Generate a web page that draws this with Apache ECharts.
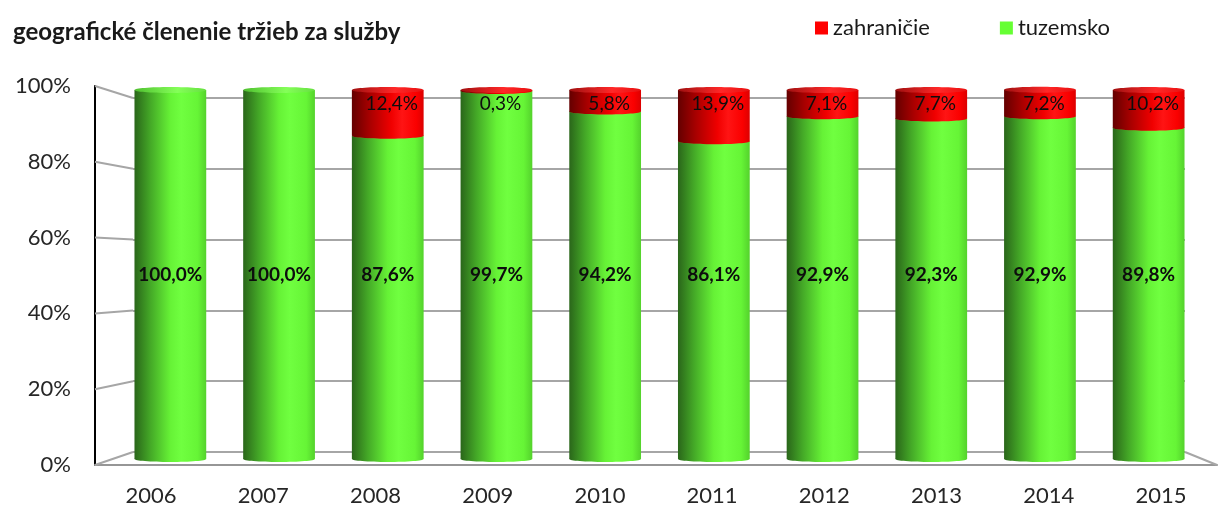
<!DOCTYPE html>
<html>
<head>
<meta charset="utf-8">
<script src="https://cdn.jsdelivr.net/npm/echarts@6/dist/echarts.min.js"></script>
<style>
  html, body { margin: 0; padding: 0; background: #fff; }
  #chart { width: 1219px; height: 513px; }
</style>
</head>
<body>
<div id="chart"></div>
<script>
const years = ['2006', '2007', '2008', '2009', '2010', '2011', '2012', '2013', '2014', '2015'];
const tuzemsko = [100.0, 100.0, 87.6, 99.7, 94.2, 86.1, 92.9, 92.3, 92.9, 89.8];
const zahranicie = [0, 0, 12.4, 0.3, 5.8, 13.9, 7.1, 7.7, 7.2, 10.2];
const yTicks = [0, 20, 40, 60, 80, 100];

const FONT = 'Lato, "Open Sans", sans-serif';
const fmt = v => v.toFixed(1).replace('.', ',') + '%';

// three depth planes of the fake 3D box: front, middle (cylinders), back wall
const front = { left: 95, right: 2, top: 86, bottom: 48 };
const mid = { left: 116, right: 16, top: 90, bottom: 54 };
const back = { left: 133, right: 34, top: 98, bottom: 61 };

function grad(stops) {
  return new echarts.graphic.LinearGradient(0, 0, 1, 0,
    stops.map(s => ({ offset: s[0], color: s[1] })));
}
const greenBody = [[0, '#2a661a'], [0.22, '#44a827'], [0.5, '#66f236'], [0.65, '#70ff40'], [0.88, '#66f536'], [1, '#54d22c']];
const greenCap = [[0, '#50c030'], [0.6, '#84ff58'], [1, '#66e040']];
const redBody = [[0, '#640000'], [0.25, '#a80000'], [0.55, '#f00000'], [0.7, '#ff1414'], [0.9, '#fa0000'], [1, '#dc0000']];
const redCap = [[0, '#a01010'], [0.6, '#ff2828'], [1, '#e81010']];

function cylinder(body, cap, labelAt, bold, dx) {
  return function (params, api) {
    const i = api.value(0), lo = api.value(1), hi = api.value(2), v = api.value(3);
    if (hi - lo <= 0) return;
    const p0 = api.coord([i, lo]);
    const p1 = api.coord([i, hi]);
    const w = api.size([1, 0])[0] * 0.66;
    const rx = w / 2, ry = 3;
    const lp = api.coord([i, labelAt]);
    return {
      type: 'group',
      children: [
        { type: 'rect', shape: { x: p0[0] - rx, y: p1[1], width: w, height: p0[1] - p1[1] }, style: { fill: grad(body) } },
        { type: 'ellipse', shape: { cx: p0[0], cy: p0[1], rx: rx, ry: ry }, style: { fill: grad(body) } },
        { type: 'ellipse', shape: { cx: p1[0], cy: p1[1], rx: rx, ry: ry }, style: { fill: grad(cap) } },
        {
          type: 'text', x: lp[0] + dx, y: lp[1],
          style: {
            text: fmt(v), fill: '#0d0d0d', align: 'center', verticalAlign: 'middle',
            font: (bold ? 'bold 19px ' : '19px ') + FONT
          }
        }
      ]
    };
  };
}

const chart = echarts.init(document.getElementById('chart'));

const option = {
  animation: false,
  title: {
    text: 'geografické členenie tržieb za služby',
    left: 8, top: 15,
    textStyle: { fontFamily: FONT, fontWeight: 'bold', fontSize: 24, color: '#1a1a1a' }
  },
  legend: {
    data: ['zahraničie', 'tuzemsko'],
    left: 810, top: 12,
    icon: 'rect', itemWidth: 13, itemHeight: 13, itemGap: 70,
    textStyle: { fontFamily: FONT, fontSize: 22, color: '#1a1a1a' }
  },
  grid: [
    Object.assign({}, front),
    Object.assign({}, mid),
    Object.assign({}, back)
  ],
  xAxis: [
    {
      gridIndex: 0, type: 'category', data: years,
      axisLine: { lineStyle: { color: '#969696', width: 2 } },
      axisTick: { show: false },
      axisLabel: { fontFamily: FONT, fontSize: 22, color: '#262626', margin: 20 }
    },
    { gridIndex: 1, type: 'category', data: years, show: false },
    { gridIndex: 2, type: 'category', data: years, show: false }
  ],
  yAxis: [
    {
      gridIndex: 0, type: 'value', min: 0, max: 100, interval: 20,
      axisLine: { show: true, lineStyle: { color: '#000', width: 2 } },
      axisTick: { show: false },
      splitLine: { show: false },
      axisLabel: { fontFamily: FONT, fontSize: 22, color: '#262626', margin: 24, formatter: '{value}%' }
    },
    { gridIndex: 1, type: 'value', min: 0, max: 100, show: false },
    {
      gridIndex: 2, type: 'value', min: 0, max: 100, interval: 20,
      axisLine: { show: false }, axisTick: { show: false }, axisLabel: { show: false },
      splitLine: { lineStyle: { color: '#a6a6a6', width: 2 } }
    }
  ],
  series: [
    {
      name: 'tuzemsko', type: 'custom', xAxisIndex: 1, yAxisIndex: 1,
      itemStyle: { color: '#66ff33' },
      renderItem: cylinder(greenBody, greenCap, 50, true, 0),
      data: tuzemsko.map((v, i) => [i, 0, v, v]),
      z: 3
    },
    {
      name: 'zahraničie', type: 'custom', xAxisIndex: 1, yAxisIndex: 1,
      itemStyle: { color: '#ff0000' },
      renderItem: cylinder(redBody, redCap, 96.3, false, 4),
      data: zahranicie.map((v, i) => [i, tuzemsko[i], tuzemsko[i] + v, v]),
      z: 4
    }
  ]
};

chart.setOption(option);

// slanted side-wall and floor edges, joining front axis ticks to the back wall
const yF = v => chart.convertToPixel({ yAxisIndex: 0 }, v);
const yB = v => chart.convertToPixel({ yAxisIndex: 2 }, v);
const W = chart.getWidth();
const edges = yTicks.map(v => ({
  type: 'line', z: 1,
  shape: { x1: front.left, y1: yF(v), x2: back.left, y2: yB(v) },
  style: { stroke: '#a6a6a6', lineWidth: 2 }
}));
edges.push({
  type: 'line', z: 1,
  shape: { x1: W - back.right, y1: yB(0), x2: W - front.right, y2: yF(0) },
  style: { stroke: '#a6a6a6', lineWidth: 2 }
});
chart.setOption({ graphic: edges });
</script>
</body>
</html>
